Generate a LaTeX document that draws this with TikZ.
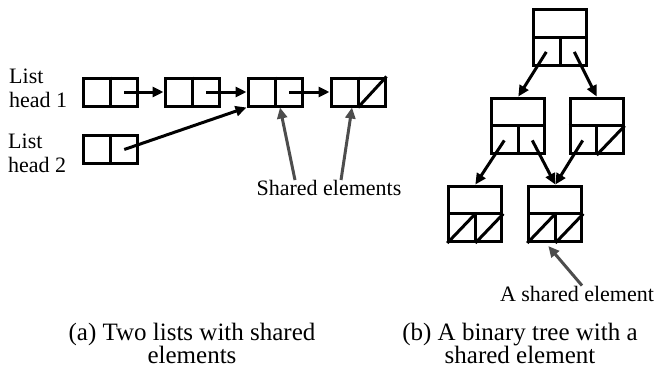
\documentclass[tikz,border=0pt]{standalone}
\usepackage{fontspec}
\setmainfont{Liberation Serif}
\usetikzlibrary{arrows.meta,calc}
\definecolor{pointergray}{HTML}{4D4D4D}
\tikzset{
  cellbox/.style={draw, line width=3pt, minimum width=54pt, minimum height=28pt, inner sep=0pt},
  treebox/.style={draw, line width=3pt, minimum width=53pt, minimum height=55.5pt, inner sep=0pt},
  link/.style={line width=3pt, -{Triangle[length=11pt,width=10pt]}},
  pointer/.style={line width=3pt, draw=pointergray, -{Triangle[length=11pt,width=10pt]}},
  lbl/.style={font=\fontsize{22}{24}\selectfont, inner sep=0pt, align=left},
  caption/.style={font=\fontsize{25}{23.5}\selectfont, inner sep=0pt, align=center},
  divider/.style={line width=3pt}
}
\begin{document}
\begin{tikzpicture}[x=1pt, y=-1pt]
\useasboundingbox (0,0) rectangle (655,370);

% ---- (a) two linked lists sharing a tail ----
\node[cellbox] (b1) at (110,92) {};
\node[cellbox] (b2) at (192,92) {};
\node[cellbox] (b3) at (275,92) {};
\node[cellbox] (b4) at (358,92) {};
\node[cellbox] (b5) at (110,149.5) {};
\foreach \n in {b1,b2,b3,b4,b5} \draw[divider] (\n.north) -- (\n.south);
\draw[divider] (b4.south) -- (b4.north east);

\node[lbl, anchor=west] (h1) at (9,88) {List\\head 1};
\node[lbl, anchor=west] (h2) at (8,153) {List\\head 2};

\draw[link] ($(b1.center)!0.5!(b1.east)$) -- (b2.west);
\draw[link] ($(b2.center)!0.5!(b2.east)$) -- (b3.west);
\draw[link] ($(b3.center)!0.5!(b3.east)$) -- (b4.west);
\draw[link] ($(b5.center)!0.5!(b5.east)$) -- (b3.south west);

\node[lbl] (shared) at (329,188) {Shared elements};
\draw[pointer] ([xshift=-34pt]shared.north) -- ([xshift=5pt]b3.south);
\draw[pointer] ([xshift=12pt]shared.north) -- ([xshift=-6pt]b4.south);

\node[caption] (capa) at (192,343.5) {(a) Two lists with shared\\elements};

% ---- (b) binary tree with a shared node ----
\node[treebox] (root) at (560.3,37.3) {};
\node[treebox] (ml) at (518.3,125.8) {};
\node[treebox] (mr) at (596.7,125.8) {};
\node[treebox] (bl) at (475.3,213.8) {};
\node[treebox] (bm) at (555.3,213.8) {};
\foreach \n in {root,ml,mr,bl,bm} {
  \draw[divider] (\n.west) -- (\n.east);
  \draw[divider] (\n.center) -- (\n.south);
}
\draw[divider] (mr.south) -- (mr.east);
\foreach \n in {bl,bm} {
  \draw[divider] (\n.south west) -- (\n.center);
  \draw[divider] (\n.south) -- (\n.east);
}

\draw[link] ($(root.center)!0.5!(root.south west)$) -- (ml.north);
\draw[link] ($(root.center)!0.5!(root.south east)$) -- (mr.north);
\draw[link] ($(ml.center)!0.5!(ml.south west)$) -- (bl.north);
\draw[link] ($(ml.center)!0.5!(ml.south east)$) -- (bm.north);
\draw[link] ($(mr.center)!0.5!(mr.south west)$) -- (bm.north);

\node[lbl] (onesh) at (577,293.5) {A shared element};
\draw[pointer] ([xshift=5pt]onesh.north) -- ([xshift=-7pt,yshift=-3pt]bm.south);

\node[caption] (capb) at (520,343.5) {(b) A binary tree with a\\shared element};
\end{tikzpicture}
\end{document}
